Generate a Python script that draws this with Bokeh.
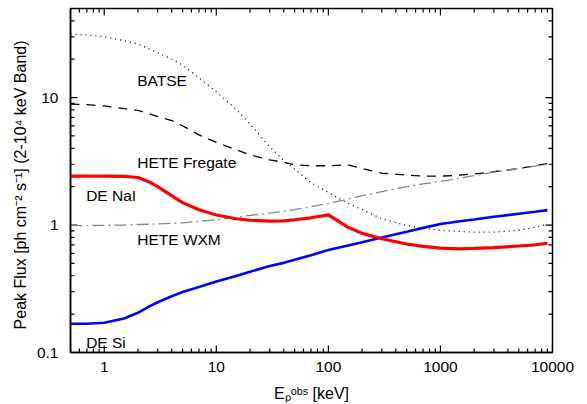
import math
from bokeh.plotting import figure
from bokeh.models import FixedTicker, Label, CustomJSTickFormatter, Range1d
from bokeh.embed import file_html
from bokeh.resources import INLINE

# ---- data ----
energy = [0.5, 0.7, 1, 1.5, 2, 2.5, 3, 4, 5, 7, 10, 15, 20, 30, 40, 50, 70, 100,
          150, 200, 300, 500, 700, 1000, 1500, 2000, 3000, 5000, 7000, 9000]

batse = [31.5, 31.0, 30.0, 28.0, 26.3, 24.2, 22.5, 20.0, 18.0, 14.3, 11.1, 8.1,
         6.2, 4.1, 3.2, 2.75, 2.15, 1.8, 1.48, 1.32, 1.12, 0.99,
         0.94, 0.91, 0.89, 0.88, 0.88, 0.91, 0.96, 1.01]

hete_fregate = [8.9, 8.8, 8.6, 8.2, 7.95, 7.5, 7.1, 6.6, 6.0, 5.1, 4.45, 3.9,
                3.55, 3.25, 3.1, 2.97, 2.92, 2.92, 2.97, 2.78, 2.55, 2.47,
                2.42, 2.42, 2.46, 2.52, 2.62, 2.78, 2.92, 3.04]

hete_wxm = [0.99, 0.99, 0.995, 1.0, 1.01, 1.015, 1.02, 1.03, 1.04, 1.07, 1.1, 1.15,
            1.19, 1.24, 1.28, 1.32, 1.39, 1.48, 1.6, 1.7, 1.83, 2.0,
            2.1, 2.2, 2.34, 2.44, 2.6, 2.76, 2.9, 3.0]

de_nai = [2.42, 2.42, 2.42, 2.41, 2.36, 2.19, 2.0, 1.7, 1.5, 1.32, 1.2, 1.12,
          1.09, 1.075, 1.08, 1.1, 1.14, 1.2, 0.96, 0.86, 0.78, 0.71,
          0.68, 0.66, 0.65, 0.655, 0.665, 0.685, 0.70, 0.72]

de_si = [0.168, 0.168, 0.171, 0.185, 0.205, 0.229, 0.248, 0.276, 0.298, 0.327, 0.36, 0.398,
         0.43, 0.478, 0.505, 0.535, 0.58, 0.636, 0.69, 0.733, 0.80, 0.885,
         0.95, 1.02, 1.07, 1.105, 1.16, 1.227, 1.27, 1.31]

x_lo, x_hi = 0.5, 10000
y_lo, y_hi = 0.1, 50
x_major = [1, 10, 100, 1000, 10000]
x_minor = [m * 10.0 ** e for e in range(-1, 4) for m in range(2, 10)]
y_major = [0.1, 1, 10]
y_minor = [m * 10.0 ** e for e in range(-1, 2) for m in range(2, 10)]

FONT = "Liberation Sans"
FS = "15.5px"

p = figure(width=587, height=404, x_axis_type="log", y_axis_type="log",
           x_range=Range1d(x_lo, x_hi), y_range=Range1d(y_lo, y_hi),
           output_backend="svg", toolbar_location=None,
           min_border_left=70, min_border_right=35,
           min_border_top=8, min_border_bottom=52)
p.outline_line_color = "black"
p.outline_line_width = 1.5
p.grid.visible = False
p.background_fill_color = "white"
p.border_fill_color = "white"

fmt = "return tick.toString();"
for ax, major, minor in [(p.xaxis[0], x_major, x_minor), (p.yaxis[0], y_major, y_minor)]:
    ax.ticker = FixedTicker(ticks=major, minor_ticks=minor)
    ax.formatter = CustomJSTickFormatter(code=fmt)
    ax.major_tick_in = 0
    ax.major_tick_out = 0
    ax.minor_tick_in = 0
    ax.minor_tick_out = 0
    ax.axis_line_width = 1.5
    ax.axis_line_color = "black"
    ax.major_label_text_font = FONT
    ax.major_label_text_font_size = FS
    ax.major_label_text_color = "black"
    ax.axis_label_text_font = FONT
    ax.axis_label_text_font_style = "normal"
    ax.axis_label_text_color = "black"

xb = p.xaxis[0]
yl = p.yaxis[0]
xb.major_label_standoff = 9
yl.major_label_standoff = 12

yl.axis_label = "Peak Flux  [ph cm\u207b\u00b2 s\u207b\u00b9]  (2-10\u2074 keV Band)"
yl.axis_label_text_font_size = "16px"
yl.axis_label_standoff = 5

xb.axis_label = "E\u209a\u1d52\u1d47\u02e2 [keV]"
xb.axis_label_text_font_size = "16px"
xb.axis_label_standoff = 10

# ---- inward tick marks on all four sides (half of each dash lies inside the frame) ----
TK = dict(marker="dash", line_color="black", line_width=1.2)
for ticks, size in [(x_major, 14), (x_minor, 8)]:
    p.scatter(ticks, [y_lo] * len(ticks), size=size, angle=math.pi / 2, **TK)
    p.scatter(ticks, [y_hi] * len(ticks), size=size, angle=math.pi / 2, **TK)
for ticks, size in [(y_major, 14), (y_minor, 8)]:
    p.scatter([x_lo] * len(ticks), ticks, size=size, angle=0, **TK)
    p.scatter([x_hi] * len(ticks), ticks, size=size, angle=0, **TK)

# ---- curves ----
p.line(energy, batse, line_color="black", line_width=1.3, line_dash="1 4")
p.line(energy, hete_fregate, line_color="black", line_width=1.3, line_dash="9 7")
p.line(energy, hete_wxm, line_color="#888888", line_width=1.3, line_dash="12 4 2 4")
p.line(energy, de_si, line_color="#0000ff", line_width=2.6)
p.line(energy, de_nai, line_color="#ff0000", line_width=3.2)

# ---- in-plot labels ----
for tx, xx, yy in [("BATSE", 1.97, 13.7), ("HETE Fregate", 1.97, 3.12),
                   ("DE NaI", 0.69, 1.72), ("HETE WXM", 1.97, 0.776),
                   ("DE Si", 0.69, 0.119)]:
    p.add_layout(Label(x=xx, y=yy, text=tx, text_font=FONT, text_font_size=FS,
                       text_color="black", text_baseline="alphabetic",
                       text_align="left"))

open("out.html", "w").write(file_html(p, INLINE))
